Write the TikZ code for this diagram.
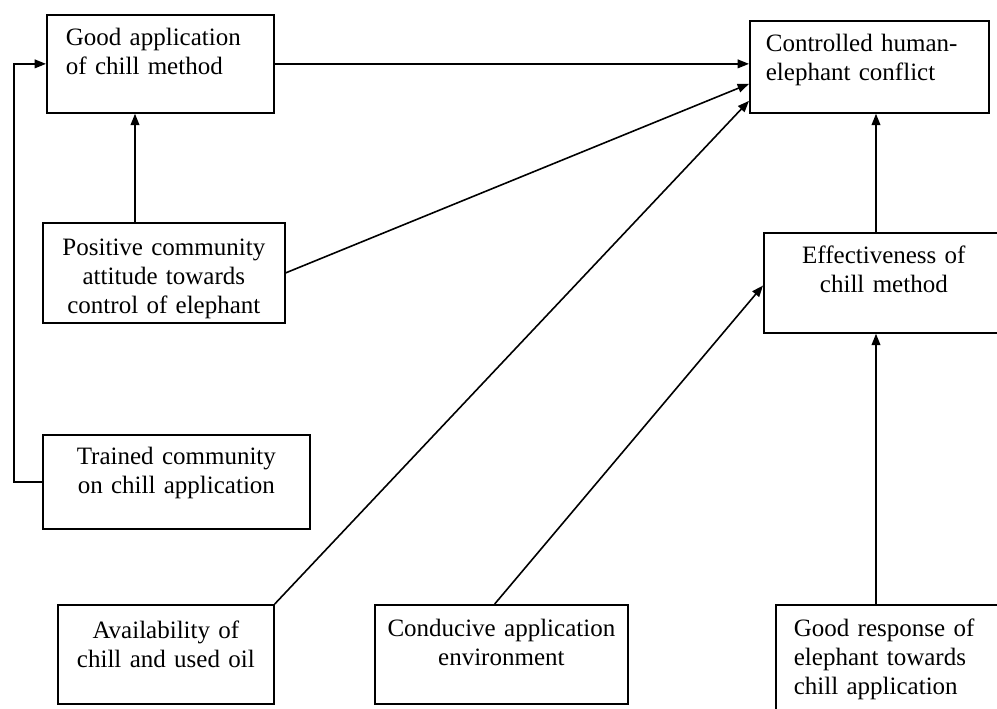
\documentclass[tikz,border=0pt]{standalone}
\usepackage{fontspec}
\setmainfont{Liberation Serif}
\usetikzlibrary{arrows.meta}

\tikzset{
	box/.style={draw, line width=1.3pt, rectangle, anchor=north west, inner ysep=0pt,
		font=\fontsize{18.75}{21.75}\selectfont},
	link/.style={line width=1.2pt, -{Triangle[length=8.5pt, width=6.5pt]}}
}

\begin{document}
\begin{tikzpicture}[x=0.75pt, y=-0.75pt]

	\path[use as bounding box] (0,0) rectangle (997,708);
	\clip (0,0) rectangle (997,708);

	%% The top row
	\begin{scope}[every node/.style={box, align=left}]
		\node at ( 46, 14) (1-1) [inner xsep=14.25pt, text width=141.75pt, text height=23.25pt, text depth=50.25pt] {Good application\\of chill method};
		\node at (749, 20) (1-2) [inner xsep=12pt, text width=155.25pt, text height=23.25pt, text depth=45.75pt] {Controlled human-\\elephant conflict};
	\end{scope}

	%% The second row
	\begin{scope}[every node/.style={box, align=center, inner xsep=0pt}]
		\node at ( 42,222) (2-1) [text width=181.5pt, text height=24.75pt, text depth=50.25pt] {Positive community\\attitude towards\\control of elephant};
		\node at (763,232) (2-2) [text width=180pt, text height=23.25pt, text depth=51.75pt] {Effectiveness of\\chill method};
	\end{scope}

	%% The third row
	\begin{scope}[every node/.style={box, align=center, inner xsep=0pt}]
		\node at ( 42,434) (3-1) [text width=200.25pt, text height=22.5pt, text depth=48pt] {Trained community\\on chill application};
	\end{scope}

	%% The bottom row
	\begin{scope}[every node/.style={box, align=center, inner xsep=0pt}]
		\node at ( 57,604) (4-1) [text width=162pt, text height=25.5pt, text depth=48.75pt] {Availability of\\chill and used oil};
		\node at (374,604) (4-2) [text width=189.75pt, text height=24pt, text depth=50.25pt] {Conducive application\\environment};
		\node at (775,604) (4-3) [align=left, inner xsep=13.5pt, text width=153pt, text height=24pt, text depth=67.5pt] {Good response of\\elephant towards\\chill application};
	\end{scope}

	%% Vertical lines
	\coordinate (c-1) at (876,0);
	\coordinate (c-2) at (135,0);

	%% The arrows
	\draw[link] (1-1.east) -- (1-1.east -| 1-2.west);
	\draw[link] (2-1.east) -- ([yshift=-12.75pt]1-2.west);
	\draw[link] (4-1.north east) -- ([yshift=-25.5pt]1-2.west);
	\draw[link] ([xshift=-5pt]4-2.north) -- ([yshift=-2pt]2-2.west);
	\draw[link] (4-3.north -| c-1) -- (2-2.south -| c-1);
	\draw[link] (2-2.north -| c-1) -- (1-2.south -| c-1);
	\draw[link] (2-1.north -| c-2) -- (1-1.south -| c-2);
	\draw[link] (3-1.west) -- ++(-28,0) |- (1-1.west);

\end{tikzpicture}
\end{document}
